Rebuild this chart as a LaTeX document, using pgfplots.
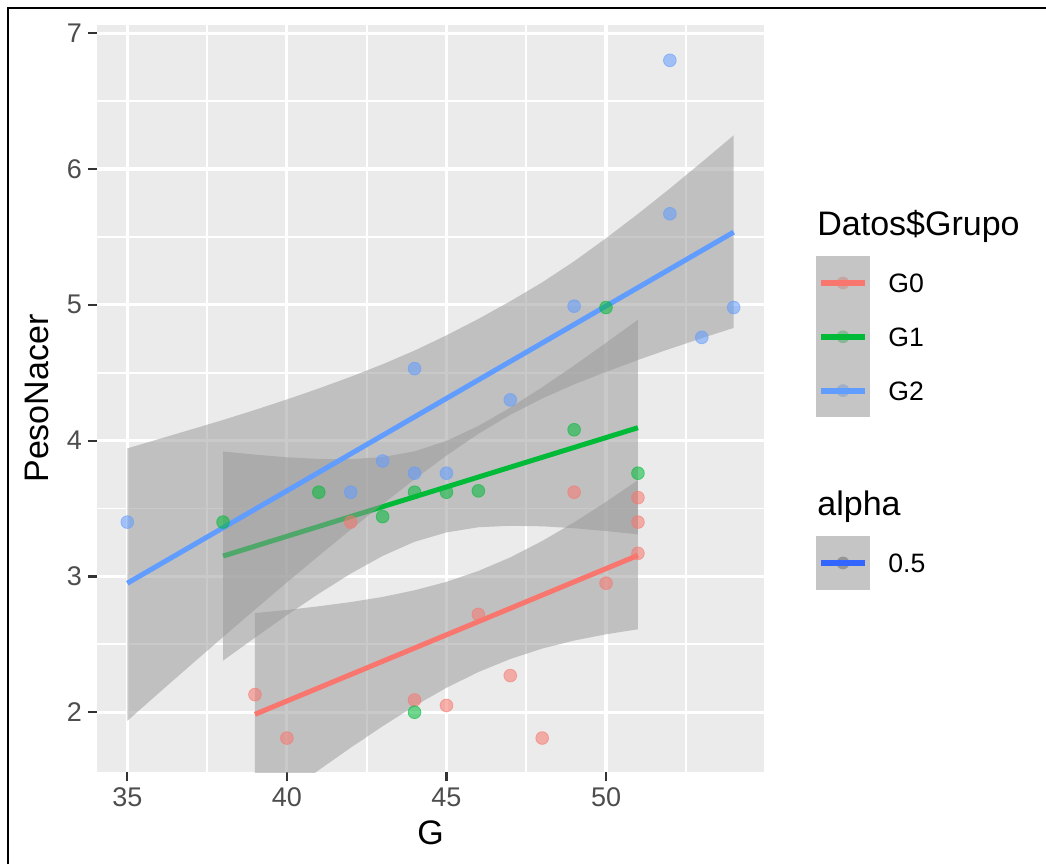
\documentclass[border=0pt]{standalone}
\usepackage{fontspec}
\setmainfont{Liberation Sans}
\usepackage{pgfplots}
\pgfplotsset{compat=1.18}
\definecolor{cG0}{HTML}{F8766D}
\definecolor{cG1}{HTML}{00BA38}
\definecolor{cG2}{HTML}{619CFF}
\definecolor{panel}{HTML}{EBEBEB}
\definecolor{tickc}{HTML}{333333}
\definecolor{labc}{HTML}{4D4D4D}
\definecolor{ribbon}{HTML}{999999}
\definecolor{smoothblue}{HTML}{3366FF}
\newcommand\legkey[3]{%
  \fill[black!5] (408pt,#1-13.4pt) rectangle (435pt,#1+13.4pt);
  \fill[#2, opacity=0.5] (421.5pt,#1) circle (3.2pt);
  \fill[ribbon, opacity=0.5] (408pt,#1-13.4pt) rectangle (435pt,#1+13.4pt);
  \draw[#2, line width=3pt] (410.5pt,#1) -- (432.5pt,#1);
  \node[anchor=base west, inner sep=0pt, font=\fontsize{13.3}{13.3}\selectfont] at (444pt,#1-4.9pt) {#3};
}
\begin{document}
\begin{tikzpicture}
\path[use as bounding box] (0,0) rectangle (523pt,432pt);
\draw[line width=1.1pt] (4pt,0) -- (4pt,428pt) -- (523pt,428pt);
\begin{axis}[
  at={(48.5pt,46pt)}, anchor=south west,
  scale only axis, width=333.5pt, height=373.5pt,
  xmin=34.05, xmax=54.95, ymin=1.56, ymax=7.06,
  axis background/.style={fill=panel},
  axis line style={draw=none},
  xtick={35,40,45,50}, ytick={2,3,4,5,6,7},
  minor xtick={37.5,42.5,47.5,52.5},
  minor ytick={2.5,3.5,4.5,5.5,6.5},
  grid=both,
  major grid style={draw=white, line width=1.6pt},
  minor grid style={draw=white, line width=0.95pt},
  tick align=outside, tick pos=left,
  major tick length=4.5pt, minor tick length=0pt,
  major tick style={draw=tickc, line width=1.1pt},
  /pgf/number format/assume math mode=true,
  ticklabel style={font=\fontsize{13.5}{13.5}\selectfont, text=labc},
  xticklabel style={yshift=0pt},
  yticklabel style={xshift=0.5pt},
  xlabel={G}, ylabel={PesoNacer},
  xlabel style={at={(axis description cs:0.5,-0.0817)}, anchor=center, font=\fontsize{17}{17}\selectfont},
  ylabel style={at={(axis description cs:-0.09,0.5)}, rotate=0, anchor=center, font=\fontsize{17}{17}\selectfont},
]
% points
\addplot[cG0, only marks, mark=*, mark size=3.2pt, mark options={fill opacity=0.55, draw opacity=0.55, line width=0.4pt}] coordinates {
 (39,2.13) (40,1.81) (42,3.40) (44,2.09) (45,2.05) (46,2.72) (47,2.27) (48,1.81) (49,3.62) (50,2.95) (51,3.17) (51,3.40) (51,3.58)};
\addplot[cG1, only marks, mark=*, mark size=3.2pt, mark options={fill opacity=0.55, draw opacity=0.55, line width=0.4pt}] coordinates {
 (38,3.40) (41,3.62) (43,3.44) (44,3.62) (44,2.00) (45,3.62) (46,3.63) (49,4.08) (50,4.98) (51,3.76)};
\addplot[cG2, only marks, mark=*, mark size=3.2pt, mark options={fill opacity=0.55, draw opacity=0.55, line width=0.4pt}] coordinates {
 (35,3.40) (42,3.62) (43,3.85) (44,4.53) (44,3.76) (45,3.76) (47,4.30) (49,4.99) (52,6.80) (52,5.67) (53,4.76) (54,4.98)};
% G0 ribbon + line
\addplot[fill=ribbon, fill opacity=0.52, draw=none] coordinates {
 (39,2.730) (40,2.753) (41,2.780) (42,2.811) (43,2.849) (44,2.898) (45,2.960) (46,3.040) (47,3.140) (48,3.261) (49,3.398) (50,3.549) (51,3.709)
 (51,2.611) (50,2.574) (49,2.528) (48,2.469) (47,2.392) (46,2.296) (45,2.180) (44,2.046) (43,1.897) (42,1.739) (41,1.574) (40,1.403) (39,1.230)} -- cycle;
\addplot[cG0, line width=2.5pt] coordinates {(39,1.985) (51,3.155)};
% G1 ribbon + line
\addplot[fill=ribbon, fill opacity=0.52, draw=none] coordinates {
 (38,3.920) (39,3.897) (40,3.877) (41,3.865) (42,3.863) (43,3.879) (44,3.921) (45,3.998) (46,4.108) (47,4.243) (48,4.393) (49,4.553) (50,4.720) (51,4.890)
 (51,3.310) (50,3.334) (49,3.355) (48,3.369) (47,3.373) (46,3.362) (45,3.324) (44,3.255) (43,3.151) (42,3.021) (41,2.873) (40,2.715) (39,2.549) (38,2.380)} -- cycle;
\addplot[cG1, line width=2.5pt] coordinates {(38,3.15) (51,4.095)};
% G2 ribbon + line
\addplot[fill=ribbon, fill opacity=0.52, draw=none] coordinates {
 (35,3.943) (36,4.012) (37,4.082) (38,4.152) (39,4.226) (40,4.303) (41,4.384) (42,4.470) (43,4.562) (44,4.663) (45,4.775) (46,4.896) (47,5.026) (48,5.165) (49,5.320) (50,5.490) (51,5.669) (52,5.856) (53,6.050) (54,6.248)
 (54,4.830) (53,4.754) (52,4.676) (51,4.594) (50,4.506) (49,4.414) (48,4.310) (47,4.190) (46,4.050) (45,3.890) (44,3.715) (43,3.532) (42,3.345) (41,3.152) (40,2.956) (39,2.756) (38,2.554) (37,2.350) (36,2.144) (35,1.937)} -- cycle;
\addplot[cG2, line width=2.5pt] coordinates {(35,2.95) (54,5.535)};
\end{axis}
% legend
\node[anchor=base west, inner sep=0pt, font=\fontsize{17}{17}\selectfont] at (408.5pt,314pt) {Datos\$Grupo};
\legkey{290.5pt}{cG0}{G0}
\legkey{263.6pt}{cG1}{G1}
\legkey{236.7pt}{cG2}{G2}
\node[anchor=base west, inner sep=0pt, font=\fontsize{17}{17}\selectfont] at (408.5pt,174.5pt) {alpha};
\legkey{150.5pt}{black!80}{0.5}
\draw[smoothblue, line width=3pt] (410.5pt,150.5pt) -- (432.5pt,150.5pt);
\end{tikzpicture}
\end{document}
